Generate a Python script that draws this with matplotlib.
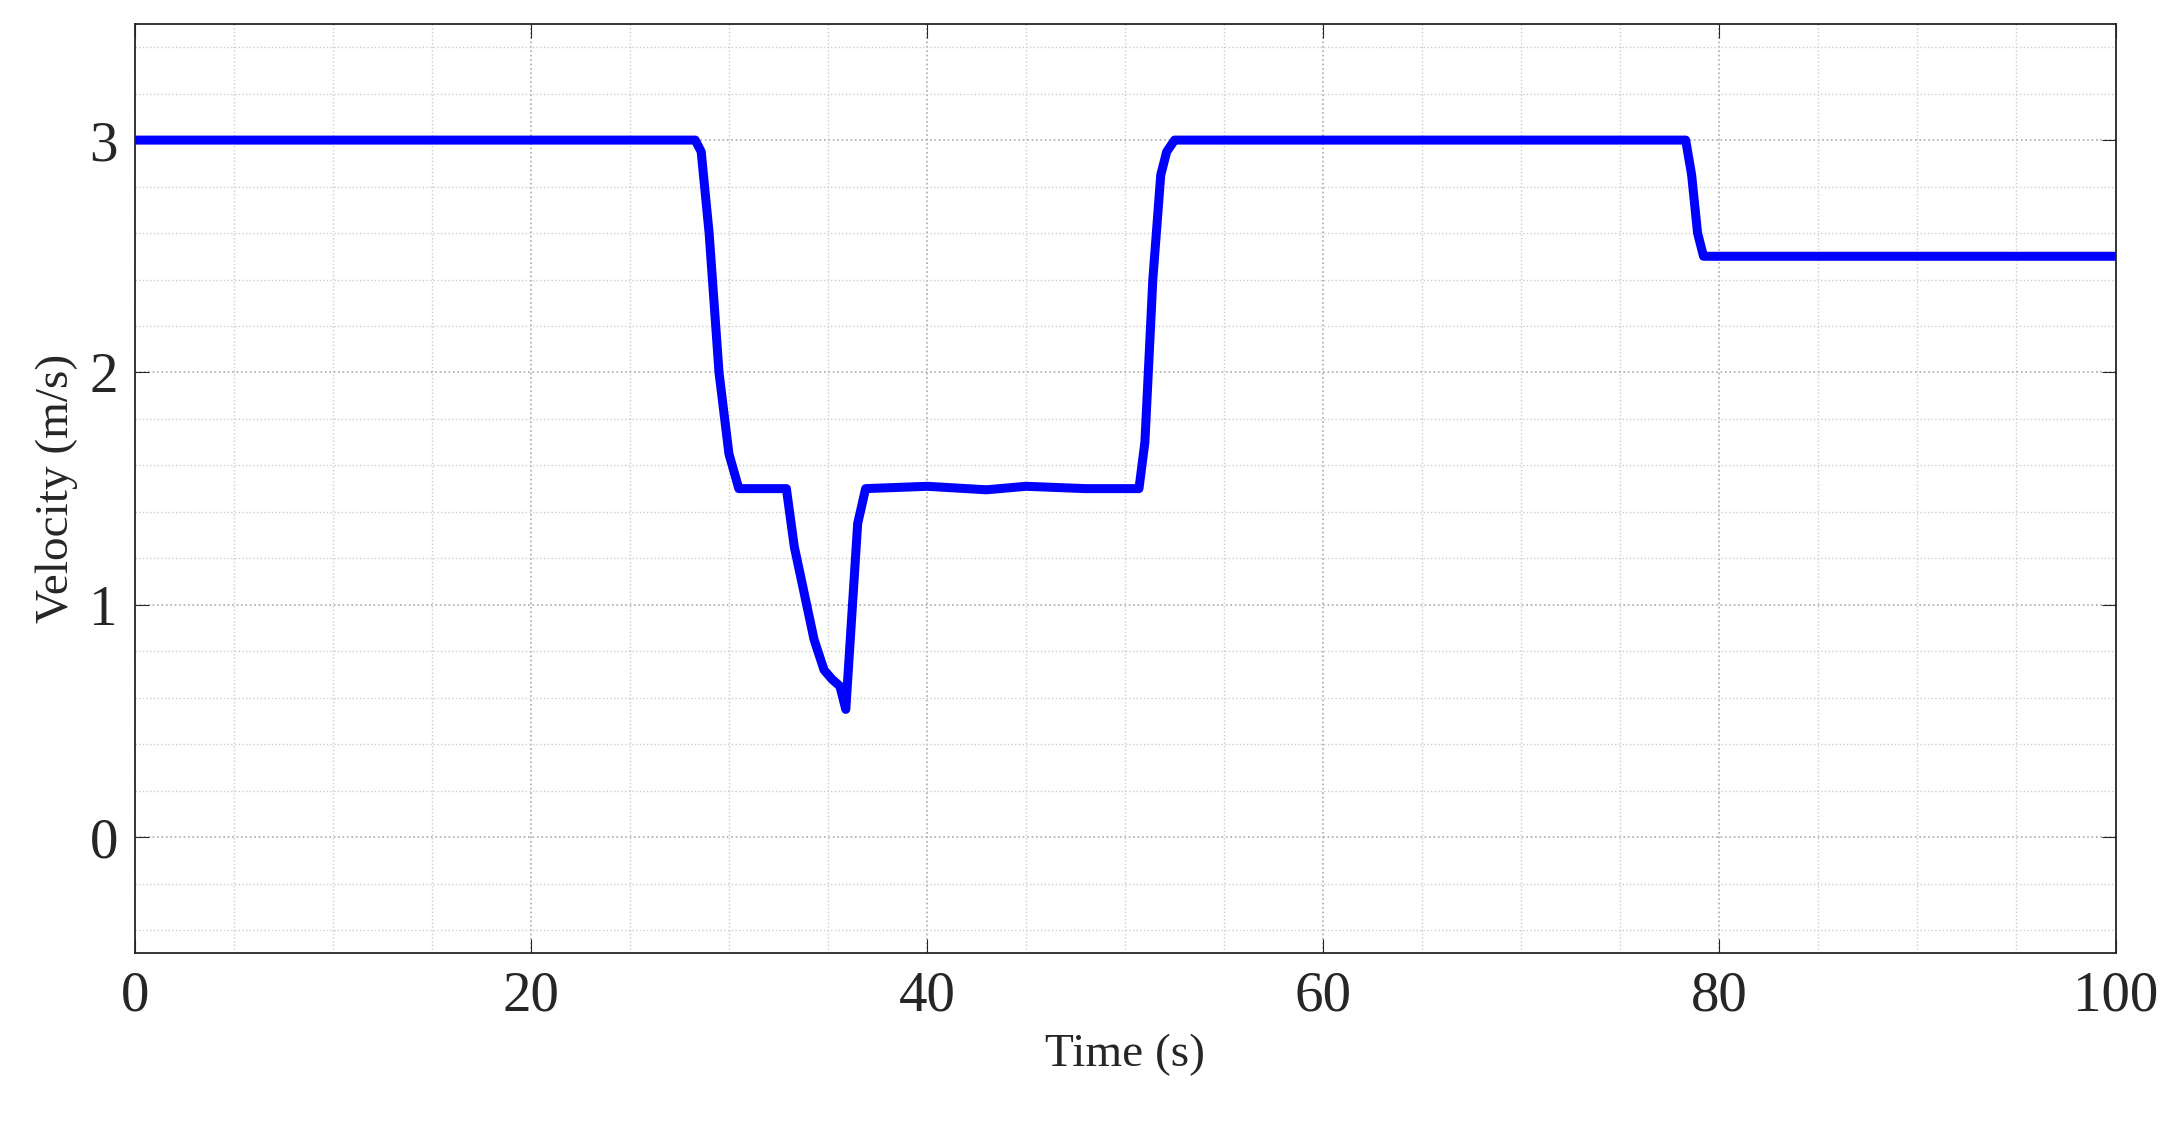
import matplotlib
matplotlib.use("Agg")
import matplotlib.pyplot as plt
from matplotlib.ticker import MultipleLocator

time_s = [0, 28.3, 28.6, 29.0, 29.5, 30.0, 30.5, 32.9, 33.3, 33.8, 34.3, 34.8, 35.2, 35.6, 35.9, 36.2, 36.5, 36.9,
          40, 43, 45, 48, 50.7, 51.0, 51.4, 51.8, 52.1, 52.5, 78.3, 78.6, 78.9, 79.2, 100]
velocity = [3.0, 3.0, 2.95, 2.6, 2.0, 1.65, 1.5, 1.5, 1.25, 1.05, 0.85, 0.72, 0.68, 0.65, 0.55, 0.95, 1.35, 1.5,
            1.51, 1.495, 1.51, 1.5, 1.5, 1.7, 2.4, 2.85, 2.95, 3.0, 3.0, 2.85, 2.6, 2.5, 2.5]

plt.rcParams['font.family'] = ['Liberation Serif', 'DejaVu Serif']
fig = plt.figure(figsize=(21.72, 11.39), dpi=100)
ax = fig.add_axes([0.062, 0.163, 0.912, 0.816])
ax.plot(time_s, velocity, color='#0000ff', lw=6.5, solid_joinstyle='round')
ax.set_xlim(0, 100)
ax.set_ylim(-0.5, 3.5)
ax.set_xticks([0, 20, 40, 60, 80, 100])
ax.set_yticks([0, 1, 2, 3])
ax.xaxis.set_minor_locator(MultipleLocator(5))
ax.yaxis.set_minor_locator(MultipleLocator(0.2))
ax.grid(which='major', ls=':', color='#aaaaaa', lw=1.2)
ax.grid(which='minor', ls=':', color='#cccccc', lw=1.0)
ax.tick_params(which='both', direction='in', top=True, right=True, labelsize=41, length=10, pad=12,
               colors='#262626')
ax.tick_params(which='minor', length=0)
for s in ax.spines.values():
    s.set_linewidth(1.3)
    s.set_color('#262626')
ax.set_xlabel('Time (s)', fontsize=34, color='#262626', labelpad=8)
ax.set_ylabel('Velocity (m/s)', fontsize=34, color='#262626', labelpad=8)
fig.savefig('out.png', dpi=100)
